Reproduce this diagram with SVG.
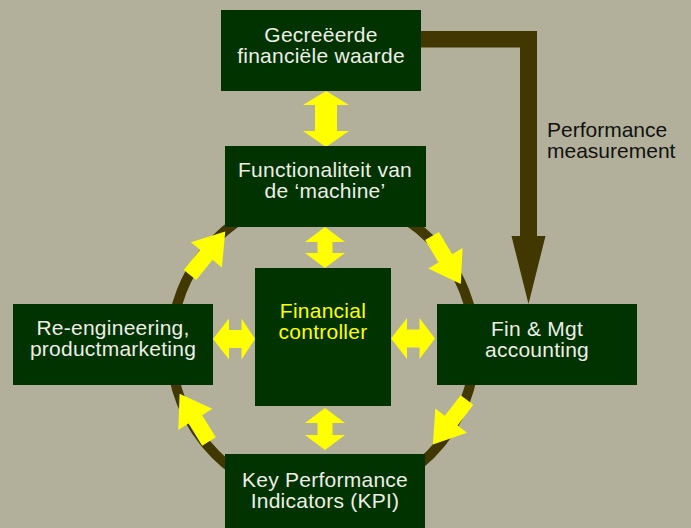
<svg xmlns="http://www.w3.org/2000/svg" xmlns:xlink="http://www.w3.org/1999/xlink" width="691" height="528" viewBox="0 0 691 528">
<style>
.box{fill:#003300}
.t{font-family:"Liberation Sans",Arial,sans-serif;font-size:21px;letter-spacing:0.25px;fill:#EEEEE6;text-anchor:middle}
.ty{fill:#FFFF00}
.lbl{font-family:"Liberation Sans",Arial,sans-serif;font-size:21px;fill:#111111}
.ya{fill:#FFFF00}
.br{fill:#403800}
</style>
<defs>
<polygon id="ra" points="0,-8 26,-8 26,-20 56,0 26,20 26,8 0,8"/>
</defs>
<rect width="691" height="528" fill="#B2B09A"/>
<g id="connectors">
<circle cx="323" cy="347" r="152" fill="none" stroke="#403800" stroke-width="10"/>
<use xlink:href="#ra" class="ya" transform="translate(190,275) rotate(-51)"/>
<use xlink:href="#ra" class="ya" transform="translate(432,236) rotate(59)"/>
<use xlink:href="#ra" class="ya" transform="translate(467,400) rotate(127.5)"/>
<use xlink:href="#ra" class="ya" transform="translate(209,441.5) rotate(-121.7)"/>
<path class="ya" d="M326,91 L349,105 L337,105 L337,131 L349,131 L326,147 L303,131 L315,131 L315,105 L303,105 Z"/>
<path class="ya" d="M325,227 L345,242 L332.5,242 L332.5,253 L345,253 L325,268 L305,253 L317.5,253 L317.5,242 L305,242 Z"/>
<path class="ya" d="M325,408 L345,423 L332.5,423 L332.5,435 L345,435 L325,450 L305,435 L317.5,435 L317.5,423 L305,423 Z"/>
<path class="ya" d="M213,339 L229,318.5 L229,330 L241.5,330 L241.5,318.5 L255,339 L241.5,359.5 L241.5,348 L229,348 L229,359.5 Z"/>
<path class="ya" d="M391,338.5 L407,318 L407,329.5 L419.5,329.5 L419.5,318 L435,338.5 L419.5,359 L419.5,347.5 L407,347.5 L407,359 Z"/>
<path class="br" d="M421,31 L537,31 L537,236 L545.5,236 L528.5,304 L511.5,236 L520,236 L520,47.5 L421,47.5 Z"/>
<text class="lbl" x="547" y="137">Performance</text>
<text class="lbl" x="547" y="158">measurement</text>
</g>
<g id="n-waarde">
<rect class="box" x="221" y="10" width="200" height="81"/>
<text class="t" x="321" y="42">Gecreëerde</text>
<text class="t" x="321" y="63">financiële waarde</text>
</g>
<g id="n-machine">
<rect class="box" x="225" y="146" width="201" height="81"/>
<text class="t" x="325" y="177">Functionaliteit van</text>
<text class="t" x="325" y="198">de ‘machine’</text>
</g>
<g id="n-controller">
<rect class="box" x="255" y="268" width="136" height="138"/>
<text class="t ty" x="323" y="318">Financial</text>
<text class="t ty" x="323" y="339">controller</text>
</g>
<g id="n-reeng">
<rect class="box" x="13" y="304" width="200" height="81"/>
<text class="t" x="113" y="335">Re-engineering,</text>
<text class="t" x="113" y="356">productmarketing</text>
</g>
<g id="n-finmgt">
<rect class="box" x="437" y="304" width="200" height="81"/>
<text class="t" x="537" y="336">Fin &amp; Mgt</text>
<text class="t" x="537" y="357">accounting</text>
</g>
<g id="n-kpi">
<rect class="box" x="225" y="454" width="200" height="81"/>
<text class="t" x="325" y="487">Key Performance</text>
<text class="t" x="325" y="508">Indicators (KPI)</text>
</g>
</svg>
